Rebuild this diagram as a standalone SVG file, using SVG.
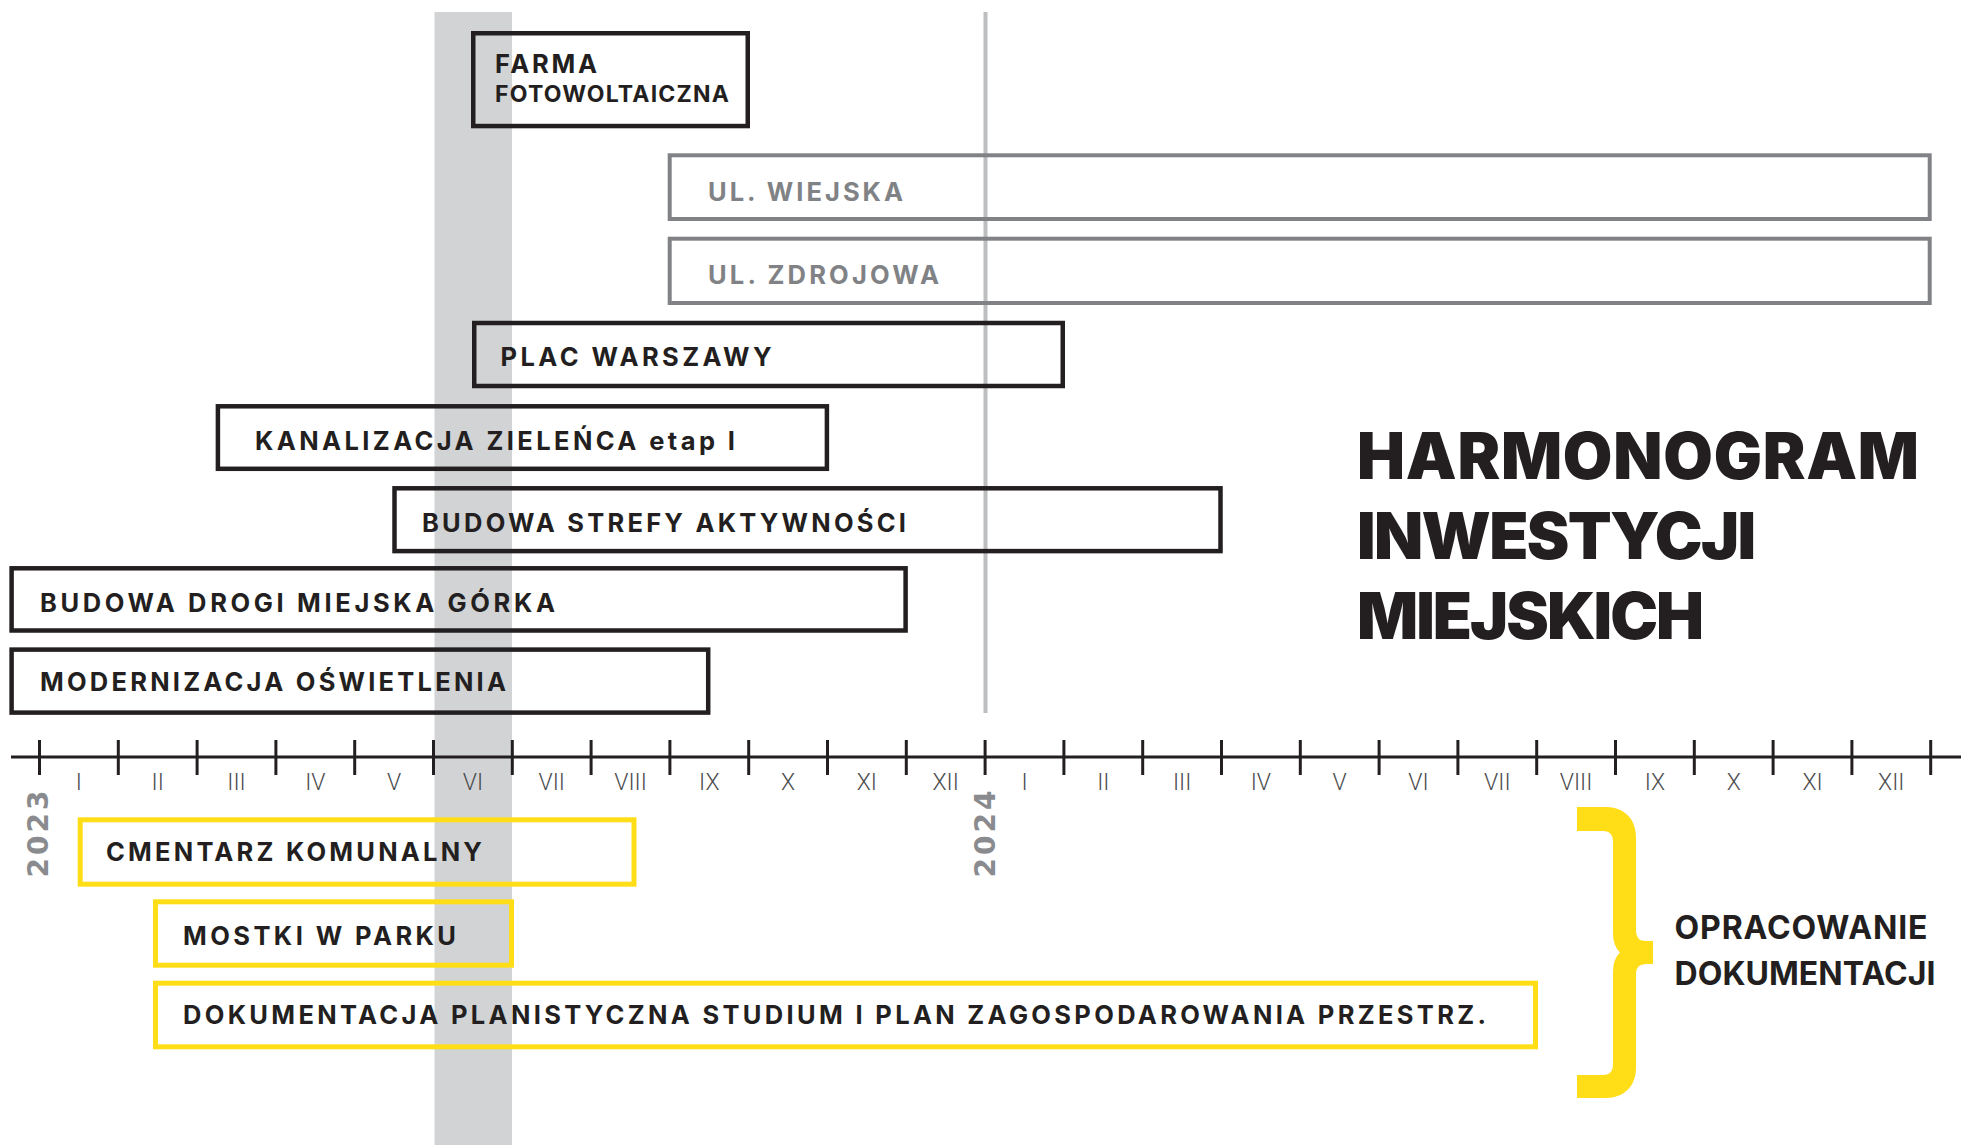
<svg xmlns="http://www.w3.org/2000/svg" width="1961" height="1145" viewBox="0 0 1961 1145">
<style>
.bk{fill:none;stroke:#231f20;stroke-width:4.5}
.gy{fill:none;stroke:#808285;stroke-width:4}
.yl{fill:none;stroke:#ffde17;stroke-width:5}
.lb{font-family:Inter,"Liberation Sans",sans-serif;font-weight:700;font-size:25.5px;fill:#231f20}
.lbg{font-family:Inter,"Liberation Sans",sans-serif;font-weight:700;font-size:25.5px;fill:#808285}
.mo{font-family:Roboto,"Liberation Sans",sans-serif;font-weight:300;font-size:23px;fill:#4d4d4f;text-anchor:middle}
.yr{font-family:"DejaVu Sans",sans-serif;font-weight:bold;font-size:28px;fill:#8a8b8e;text-anchor:middle;letter-spacing:3px}
.tt{font-family:Inter,"Liberation Sans",sans-serif;font-weight:900;font-size:64px;fill:#231f20}
.od{font-family:Inter,"Liberation Sans",sans-serif;font-weight:700;font-size:32px;fill:#231f20}
.tk{stroke:#231f20;stroke-width:3}
</style>
<g id="background">
<rect id="band-june" x="434.5" y="12" width="77.5" height="1133" fill="#d1d3d4"/>
<line id="year-line" x1="985.5" y1="12" x2="985.5" y2="713" stroke="#bcbec0" stroke-width="4"/>
</g>
<g id="connectors">
<line x1="11" y1="757" x2="1961" y2="757" class="tk"/>
<g id="ticks">
<line x1="39.5" y1="740" x2="39.5" y2="775" class="tk"/>
<line x1="118.3" y1="740" x2="118.3" y2="775" class="tk"/>
<line x1="197.1" y1="740" x2="197.1" y2="775" class="tk"/>
<line x1="275.9" y1="740" x2="275.9" y2="775" class="tk"/>
<line x1="354.7" y1="740" x2="354.7" y2="775" class="tk"/>
<line x1="433.5" y1="740" x2="433.5" y2="775" class="tk"/>
<line x1="512.3" y1="740" x2="512.3" y2="775" class="tk"/>
<line x1="591.1" y1="740" x2="591.1" y2="775" class="tk"/>
<line x1="669.9" y1="740" x2="669.9" y2="775" class="tk"/>
<line x1="748.7" y1="740" x2="748.7" y2="775" class="tk"/>
<line x1="827.5" y1="740" x2="827.5" y2="775" class="tk"/>
<line x1="906.3" y1="740" x2="906.3" y2="775" class="tk"/>
<line x1="985.1" y1="740" x2="985.1" y2="775" class="tk"/>
<line x1="1063.9" y1="740" x2="1063.9" y2="775" class="tk"/>
<line x1="1142.7" y1="740" x2="1142.7" y2="775" class="tk"/>
<line x1="1221.5" y1="740" x2="1221.5" y2="775" class="tk"/>
<line x1="1300.3" y1="740" x2="1300.3" y2="775" class="tk"/>
<line x1="1379.1" y1="740" x2="1379.1" y2="775" class="tk"/>
<line x1="1457.9" y1="740" x2="1457.9" y2="775" class="tk"/>
<line x1="1536.7" y1="740" x2="1536.7" y2="775" class="tk"/>
<line x1="1615.5" y1="740" x2="1615.5" y2="775" class="tk"/>
<line x1="1694.3" y1="740" x2="1694.3" y2="775" class="tk"/>
<line x1="1773.1" y1="740" x2="1773.1" y2="775" class="tk"/>
<line x1="1851.9" y1="740" x2="1851.9" y2="775" class="tk"/>
<line x1="1930.7" y1="740" x2="1930.7" y2="775" class="tk"/>
</g>
<path id="brace" fill="#ffde17" d="M1577,807 L1606,807 C1624,807 1636,819 1636,837 L1636,931 Q1636,941 1646,941 L1653,941 L1653,964 L1646,964 Q1636,964 1636,974 L1636,1068 C1636,1086 1624,1098 1606,1098 L1577,1098 L1577,1075 L1603,1075 Q1613,1075 1613,1064 L1613,972 Q1613,959 1620,952.5 Q1613,946 1613,933 L1613,842 Q1613,831 1603,831 L1577,831 Z"/>
</g>
<g id="months">
<text class="mo" x="78.9" y="790">I</text>
<text class="mo" x="157.7" y="790">II</text>
<text class="mo" x="236.5" y="790">III</text>
<text class="mo" x="315.3" y="790">IV</text>
<text class="mo" x="394.1" y="790">V</text>
<text class="mo" x="472.9" y="790">VI</text>
<text class="mo" x="551.7" y="790">VII</text>
<text class="mo" x="630.5" y="790">VIII</text>
<text class="mo" x="709.3" y="790">IX</text>
<text class="mo" x="788.1" y="790">X</text>
<text class="mo" x="866.9" y="790">XI</text>
<text class="mo" x="945.7" y="790">XII</text>
<text class="mo" x="1024.5" y="790">I</text>
<text class="mo" x="1103.3" y="790">II</text>
<text class="mo" x="1182.1" y="790">III</text>
<text class="mo" x="1260.9" y="790">IV</text>
<text class="mo" x="1339.7" y="790">V</text>
<text class="mo" x="1418.5" y="790">VI</text>
<text class="mo" x="1497.3" y="790">VII</text>
<text class="mo" x="1576.1" y="790">VIII</text>
<text class="mo" x="1654.9" y="790">IX</text>
<text class="mo" x="1733.7" y="790">X</text>
<text class="mo" x="1812.5" y="790">XI</text>
<text class="mo" x="1891.3" y="790">XII</text>
</g>
<g id="year-2023"><text class="yr" transform="translate(48,834) rotate(-90)" x="1.5" y="0">2023</text></g>
<g id="year-2024"><text class="yr" transform="translate(995,834) rotate(-90)" x="1.5" y="0">2024</text></g>
<g id="farma">
<rect class="bk" x="473.25" y="33.25" width="274.5" height="92.8"/>
<text class="lb" x="495" y="73.3" textLength="102">FARMA</text>
<text class="lb" style="font-size:23px" x="495" y="101.7" textLength="234">FOTOWOLTAICZNA</text>
</g>
<g id="ul-wiejska">
<rect class="gy" x="669.7" y="155.3" width="1260" height="63.7"/>
<text class="lbg" x="708" y="200.7" textLength="195">UL. WIEJSKA</text>
</g>
<g id="ul-zdrojowa">
<rect class="gy" x="669.7" y="238.7" width="1260" height="64.3"/>
<text class="lbg" x="708" y="284" textLength="231">UL. ZDROJOWA</text>
</g>
<g id="plac-warszawy">
<rect class="bk" x="474.25" y="323" width="588.5" height="63"/>
<text class="lb" x="500.6" y="365.7" textLength="271">PLAC WARSZAWY</text>
</g>
<g id="kanalizacja">
<rect class="bk" x="217.9" y="406.3" width="609" height="62.5"/>
<text class="lb" x="255" y="450" textLength="480">KANALIZACJA ZIELEŃCA etap I</text>
</g>
<g id="strefa-aktywnosci">
<rect class="bk" x="394.5" y="488.3" width="826" height="62.8"/>
<text class="lb" x="422" y="531.7" textLength="484">BUDOWA STREFY AKTYWNOŚCI</text>
</g>
<g id="droga-gorka">
<rect class="bk" x="11.6" y="568.3" width="894" height="62.2"/>
<text class="lb" x="40" y="611.5" textLength="515">BUDOWA DROGI MIEJSKA GÓRKA</text>
</g>
<g id="oswietlenie">
<rect class="bk" x="11.6" y="649.6" width="696.6" height="63"/>
<text class="lb" x="40" y="690.5" textLength="466">MODERNIZACJA OŚWIETLENIA</text>
</g>
<g id="cmentarz">
<rect class="yl" x="80.2" y="819.8" width="553.8" height="64.4"/>
<text class="lb" x="106" y="860.5" textLength="376">CMENTARZ KOMUNALNY</text>
</g>
<g id="mostki">
<rect class="yl" x="155.5" y="901.8" width="356" height="63.4"/>
<text class="lb" x="183" y="945" textLength="273">MOSTKI W PARKU</text>
</g>
<g id="dokumentacja">
<rect class="yl" x="155.5" y="983.2" width="1380" height="63.6"/>
<text class="lb" x="183" y="1024" textLength="1303">DOKUMENTACJA PLANISTYCZNA STUDIUM I PLAN ZAGOSPODAROWANIA PRZESTRZ.</text>
</g>
<g id="opracowanie">
<text class="od" x="1674.5" y="939.3" textLength="253">OPRACOWANIE</text>
<text class="od" x="1674.5" y="985" textLength="261">DOKUMENTACJI</text>
</g>
<g id="title">
<text class="tt" x="1357" y="478.5" textLength="562">HARMONOGRAM</text>
<text class="tt" x="1357" y="558.5" textLength="399">INWESTYCJI</text>
<text class="tt" x="1357" y="639" textLength="347">MIEJSKICH</text>
</g>
</svg>
